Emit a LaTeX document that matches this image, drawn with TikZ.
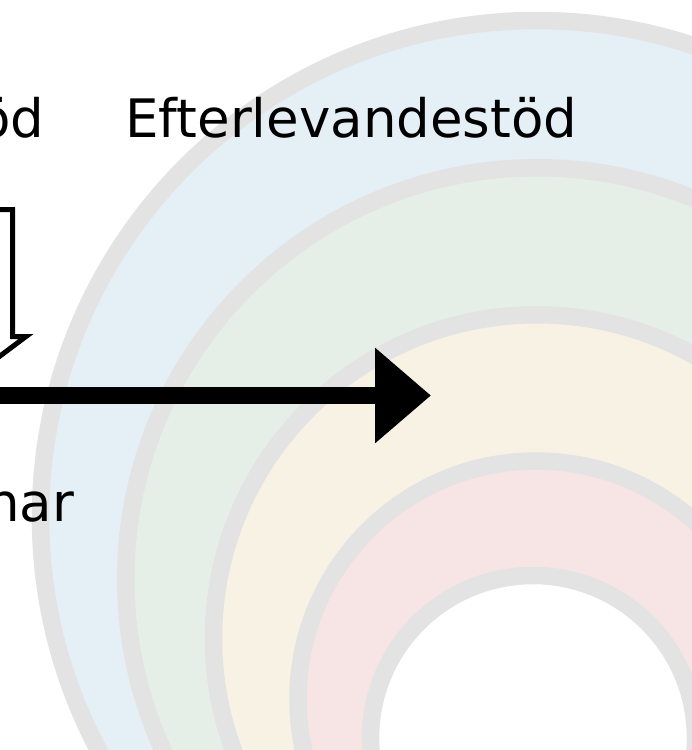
\documentclass[tikz,border=0pt]{standalone}
\usepackage{fontspec}
\setmainfont{DejaVu Sans}
\usetikzlibrary{arrows.meta}
\definecolor{ringgrey}{HTML}{E3E3E3}
\definecolor{ringblue}{HTML}{E5EFF6}
\definecolor{ringgreen}{HTML}{E5EFE7}
\definecolor{ringyellow}{HTML}{F8F2E5}
\definecolor{ringpink}{HTML}{F7E5E5}
\tikzset{
  ring/.style={draw=ringgrey, line width=17.5pt},
  lbl/.style={inner sep=0pt, outer sep=0pt, font=\fontsize{53}{60}\selectfont, text=black},
  bigarrow/.style={line width=17pt, -{Triangle[length=56pt,width=92pt]}},
  outlinearrow/.style={line width=5pt}
}
\begin{document}
\begin{tikzpicture}[x=1pt,y=-1pt]
\path[use as bounding box] (0,0) rectangle (692,750);
\clip (0,0) rectangle (692,750);
% nested rings
\fill[white] (0,0) rectangle (692,750);
\draw[ring, fill=ringblue]   (537,517)   circle[radius=496.5];
\draw[ring, fill=ringgreen]  (537,579)   circle[radius=411.25];
\draw[ring, fill=ringyellow] (537,638.3) circle[radius=323.5];
\draw[ring, fill=ringpink]   (536,699)   circle[radius=238];
\draw[ring, fill=white]      (533,738)   circle[radius=162.5];
% labels
\node[lbl, anchor=base east] (od) at (44.5,137) {öd};
\node[lbl, anchor=base west] (eft) at (125.5,137) {Efterlevandestöd};
\node[lbl, anchor=base east] (nar) at (74,521) {nar};
% hollow block arrow outline (cut off)
\draw[outlinearrow] (-20,209.5) -- (12.5,209.5) -- (12.5,336.5) -- (26,336.5) -- (-30,378.5);
% thick arrow
\coordinate (a0) at (-20,395.5);
\coordinate (a1) at (431,395.5);
\draw[bigarrow] (a0) -- (a1);
\end{tikzpicture}
\end{document}
